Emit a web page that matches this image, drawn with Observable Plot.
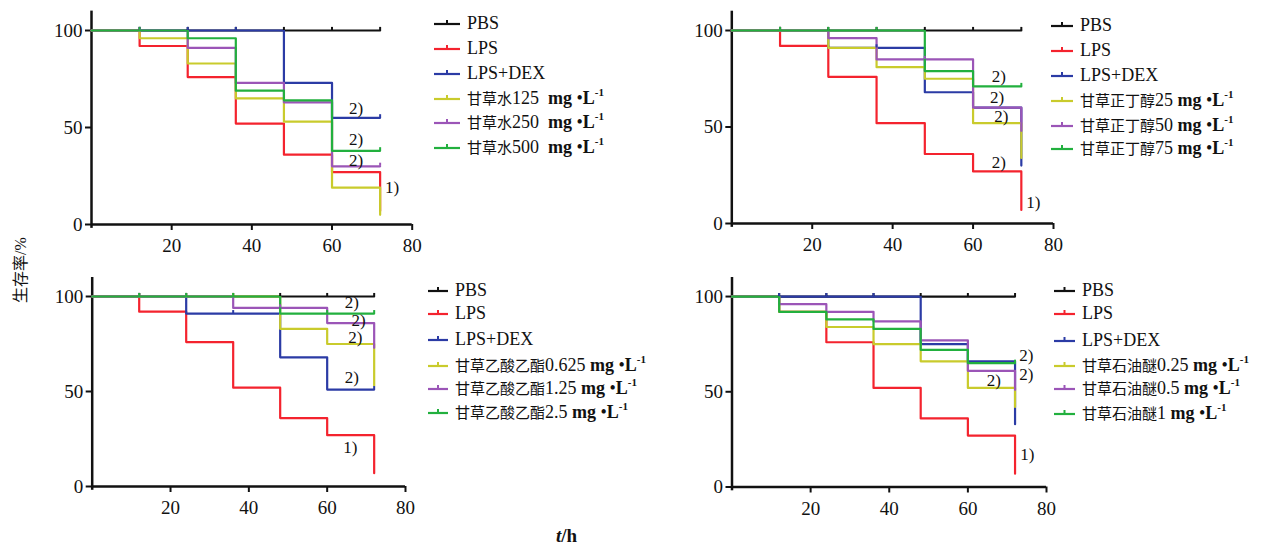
<!DOCTYPE html>
<html><head><meta charset="utf-8">
<script src="https://cdn.jsdelivr.net/npm/d3@7"></script>
<script src="https://cdn.jsdelivr.net/npm/@observablehq/plot@0.6"></script>
<style>
html,body{margin:0;padding:0;background:#fff;}
#root{position:relative;width:1287px;height:546px;overflow:hidden;font-family:"Liberation Serif",serif;color:#111;}
.panel{position:absolute;}
.row{position:absolute;height:20px;line-height:20px;white-space:nowrap;font-size:18px;}
.row svg{position:absolute;top:4px;}
.row .txt{position:absolute;top:0;}
.cjk{font-family:"Noto Sans CJK SC",sans-serif;font-size:15px;}
.sup{font-size:11px;position:relative;top:-8px;font-weight:bold;}
#ylab{position:absolute;left:20px;top:270px;transform:translate(-50%,-50%) rotate(-90deg);white-space:nowrap;font-size:16px;line-height:18px;}
#xlab{position:absolute;left:556px;top:527px;height:18px;white-space:nowrap;font-size:19px;line-height:18px;font-weight:bold;}
</style>
</head><body>
<div id="root">
  <div id="ylab"><span class="cjk" style="font-size:16px">生存率</span>/%</div>
  <div id="xlab"><i>t</i>/h</div>
</div>
<script>
// ---- shared ----
const times = [0, 12, 24, 36, 48, 60, 72];
const seriesKeys = ["PBS", "LPS", "LPS+DEX", "low", "mid", "high"];
const seriesColors = ["#111111", "#f4232e", "#2b3ba5", "#c9cb2c", "#9b55b7", "#22b03e"];
const xTicks = [20, 40, 60, 80];
const yTicks = [0, 50, 100];

// ---- Panel A: 甘草水 ----
const aDoseName = "甘草水";
const aDoseNums = ["125", "250", "500"];
const aPBS  = [100, 100, 100, 100, 100, 100, 100];
const aLPS  = [100, 92, 76, 52, 36, 27, 7];
const aDEX  = [100, 100, 100, 100, 73, 55, 55];
const aLow  = [100, 96, 83, 65, 53, 19, 5];
const aMid  = [100, 100, 91, 73, 63, 30, 30];
const aHigh = [100, 100, 96, 69, 64, 38, 38];
const aNoteText = ["2)", "2)", "2)", "1)"];
const aNoteX = [66, 66, 66, 75];
const aNoteY = [60, 44, 33, 19];

// ---- Panel B: 甘草正丁醇 ----
const bDoseName = "甘草正丁醇";
const bDoseNums = ["25", "50", "75"];
const bPBS  = [100, 100, 100, 100, 100, 100, 100];
const bLPS  = [100, 92, 76, 52, 36, 27, 7];
const bDEX  = [100, 100, 91, 91, 68, 60, 30];
const bLow  = [100, 100, 91, 81, 75, 52, 34];
const bMid  = [100, 100, 96, 85, 85, 60, 48];
const bHigh = [100, 100, 100, 100, 79, 71, 71];
const bNoteText = ["2)", "2)", "2)", "2)", "1)"];
const bNoteX = [66.4, 66, 67, 66.4, 75];
const bNoteY = [76, 65.4, 55.4, 31.4, 11];

// ---- Panel C: 甘草乙酸乙酯 ----
const cDoseName = "甘草乙酸乙酯";
const cDoseNums = ["0.625", "1.25", "2.5"];
const cPBS  = [100, 100, 100, 100, 100, 100, 100];
const cLPS  = [100, 92, 76, 52, 36, 27, 7];
const cDEX  = [100, 100, 91, 91, 68, 51, 51];
const cLow  = [100, 100, 100, 100, 83, 75, 53];
const cMid  = [100, 100, 100, 94, 94, 86, 73];
const cHigh = [100, 100, 100, 100, 91, 91, 91];
const cNoteText = ["2)", "2)", "2)", "2)", "1)"];
const cNoteX = [66.3, 68, 67.2, 66.3, 65.9];
const cNoteY = [97, 87.6, 78.2, 57.2, 20.7];

// ---- Panel D: 甘草石油醚 ----
const dDoseName = "甘草石油醚";
const dDoseNums = ["0.25", "0.5", "1"];
const dPBS  = [100, 100, 100, 100, 100, 100, 100];
const dLPS  = [100, 92, 76, 52, 36, 27, 7];
const dDEX  = [100, 100, 100, 100, 75, 66, 33];
const dLow  = [100, 92, 84, 75, 66, 52, 42];
const dMid  = [100, 96, 92, 87, 77, 61, 51];
const dHigh = [100, 92, 88, 83, 72, 65, 65];
const dNoteText = ["2)", "2)", "2)", "1)"];
const dNoteX = [74.9, 74.9, 66.6, 75.1];
const dNoteY = [69.2, 59.2, 56, 17.2];

const panels = [
  {values:[aPBS,aLPS,aDEX,aLow,aMid,aHigh], dose:aDoseName, nums:aDoseNums, gap:"&nbsp;&nbsp;", notes:[aNoteText,aNoteX,aNoteY],
   box:{left:0, top:0, width:425, height:260, mL:91, mR:13.3, mT:10.6, mB:36},
   leg:{x:433, tx:467, rows:[23,48,73,98,122,147]}},
  {values:[bPBS,bLPS,bDEX,bLow,bMid,bHigh], dose:bDoseName, nums:bDoseNums, gap:"&nbsp;", notes:[bNoteText,bNoteX,bNoteY],
   box:{left:640, top:0, width:425, height:260, mL:91.3, mR:12, mT:10.7, mB:37},
   leg:{x:1050, tx:1080, rows:[25,50,75,100,125,148]}},
  {values:[cPBS,cLPS,cDEX,cLow,cMid,cHigh], dose:cDoseName, nums:cDoseNums, gap:"&nbsp;", notes:[cNoteText,cNoteX,cNoteY],
   box:{left:0, top:270, width:420, height:260, mL:91.7, mR:15, mT:7, mB:44},
   leg:{x:427, tx:455, rows:[290,313,339,365,388,412]}},
  {values:[dPBS,dLPS,dDEX,dLow,dMid,dHigh], dose:dDoseName, nums:dDoseNums, gap:"&nbsp;", notes:[dNoteText,dNoteX,dNoteY],
   box:{left:640, top:270, width:420, height:260, mL:91.5, mR:14, mT:7, mB:43.5},
   leg:{x:1053, tx:1082, rows:[290,313,340,365,388,413]}}
];

const root = document.getElementById("root");

panels.forEach(p => {
  const steps = [];
  const censor = [];
  seriesKeys.forEach((s, si) => {
    const vals = p.values[si];
    vals.forEach((v, i) => {
      steps.push({s, t: times[i], v});
      if (i > 0 && vals[i] === vals[i - 1]) censor.push({s, t: times[i], v});
    });
  });
  const [nt, nx, ny] = p.notes;
  const b = p.box;
  const chart = Plot.plot({
    width: b.width, height: b.height,
    marginLeft: b.mL, marginRight: b.mR, marginTop: b.mT, marginBottom: b.mB,
    x: {domain: [0, 80]},
    y: {domain: [0, 110]},
    color: {domain: seriesKeys, range: seriesColors},
    style: {fontFamily: "'Liberation Serif', serif", fontSize: "19px", color: "#111", background: "transparent", overflow: "visible"},
    marks: [
      Plot.axisX({ticks: xTicks, tickSize: 6, tickPadding: 8, label: null, strokeWidth: 2, fontSize: 19}),
      Plot.axisY({ticks: yTicks, tickSize: 6, tickPadding: 3, label: null, strokeWidth: 2, fontSize: 19}),
      Plot.ruleY([0], {x1: 0, x2: 80, stroke: "#111", strokeWidth: 2.5}),
      Plot.ruleX([0], {y1: -2, y2: 110, stroke: "#111", strokeWidth: 2.5}),
      Plot.line(steps, {x: "t", y: "v", z: "s", stroke: "s", curve: "step-after", strokeWidth: 2.2}),
      Plot.ruleX(censor, {x: "t", y1: "v", y2: d => d.v + 1.6, stroke: "s", strokeWidth: 2}),
      Plot.text(nt, {x: nx, y: ny, text: d => d, fill: "#111", fontSize: 17})
    ]
  });
  const wrap = document.createElement("div");
  wrap.className = "panel";
  wrap.style.left = b.left + "px";
  wrap.style.top = b.top + "px";
  wrap.appendChild(chart);
  root.appendChild(wrap);

  // legend
  seriesKeys.forEach((s, i) => {
    const row = document.createElement("div");
    row.className = "row";
    row.style.left = p.leg.x + "px";
    row.style.top = (p.leg.rows[i] - 10) + "px";
    const w = p.leg.tx - p.leg.x - 8;
    const label = i < 3 ? s
      : `<span class="cjk">${p.dose}</span>${p.nums[i - 3]}${p.gap}<b>mg</b> •<b>L</b><span class="sup">-1</span>`;
    row.innerHTML = `<svg width="${w + 2}" height="12" style="left:0"><line x1="1" x2="${w + 1}" y1="7" y2="7" stroke="${seriesColors[i]}" stroke-width="2.2"/><line x1="${w / 2 + 1}" x2="${w / 2 + 1}" y1="7" y2="3" stroke="${seriesColors[i]}" stroke-width="2"/></svg><span class="txt" style="left:${p.leg.tx - p.leg.x}px">${label}</span>`;
    root.appendChild(row);
  });
});
</script>
</body></html>
